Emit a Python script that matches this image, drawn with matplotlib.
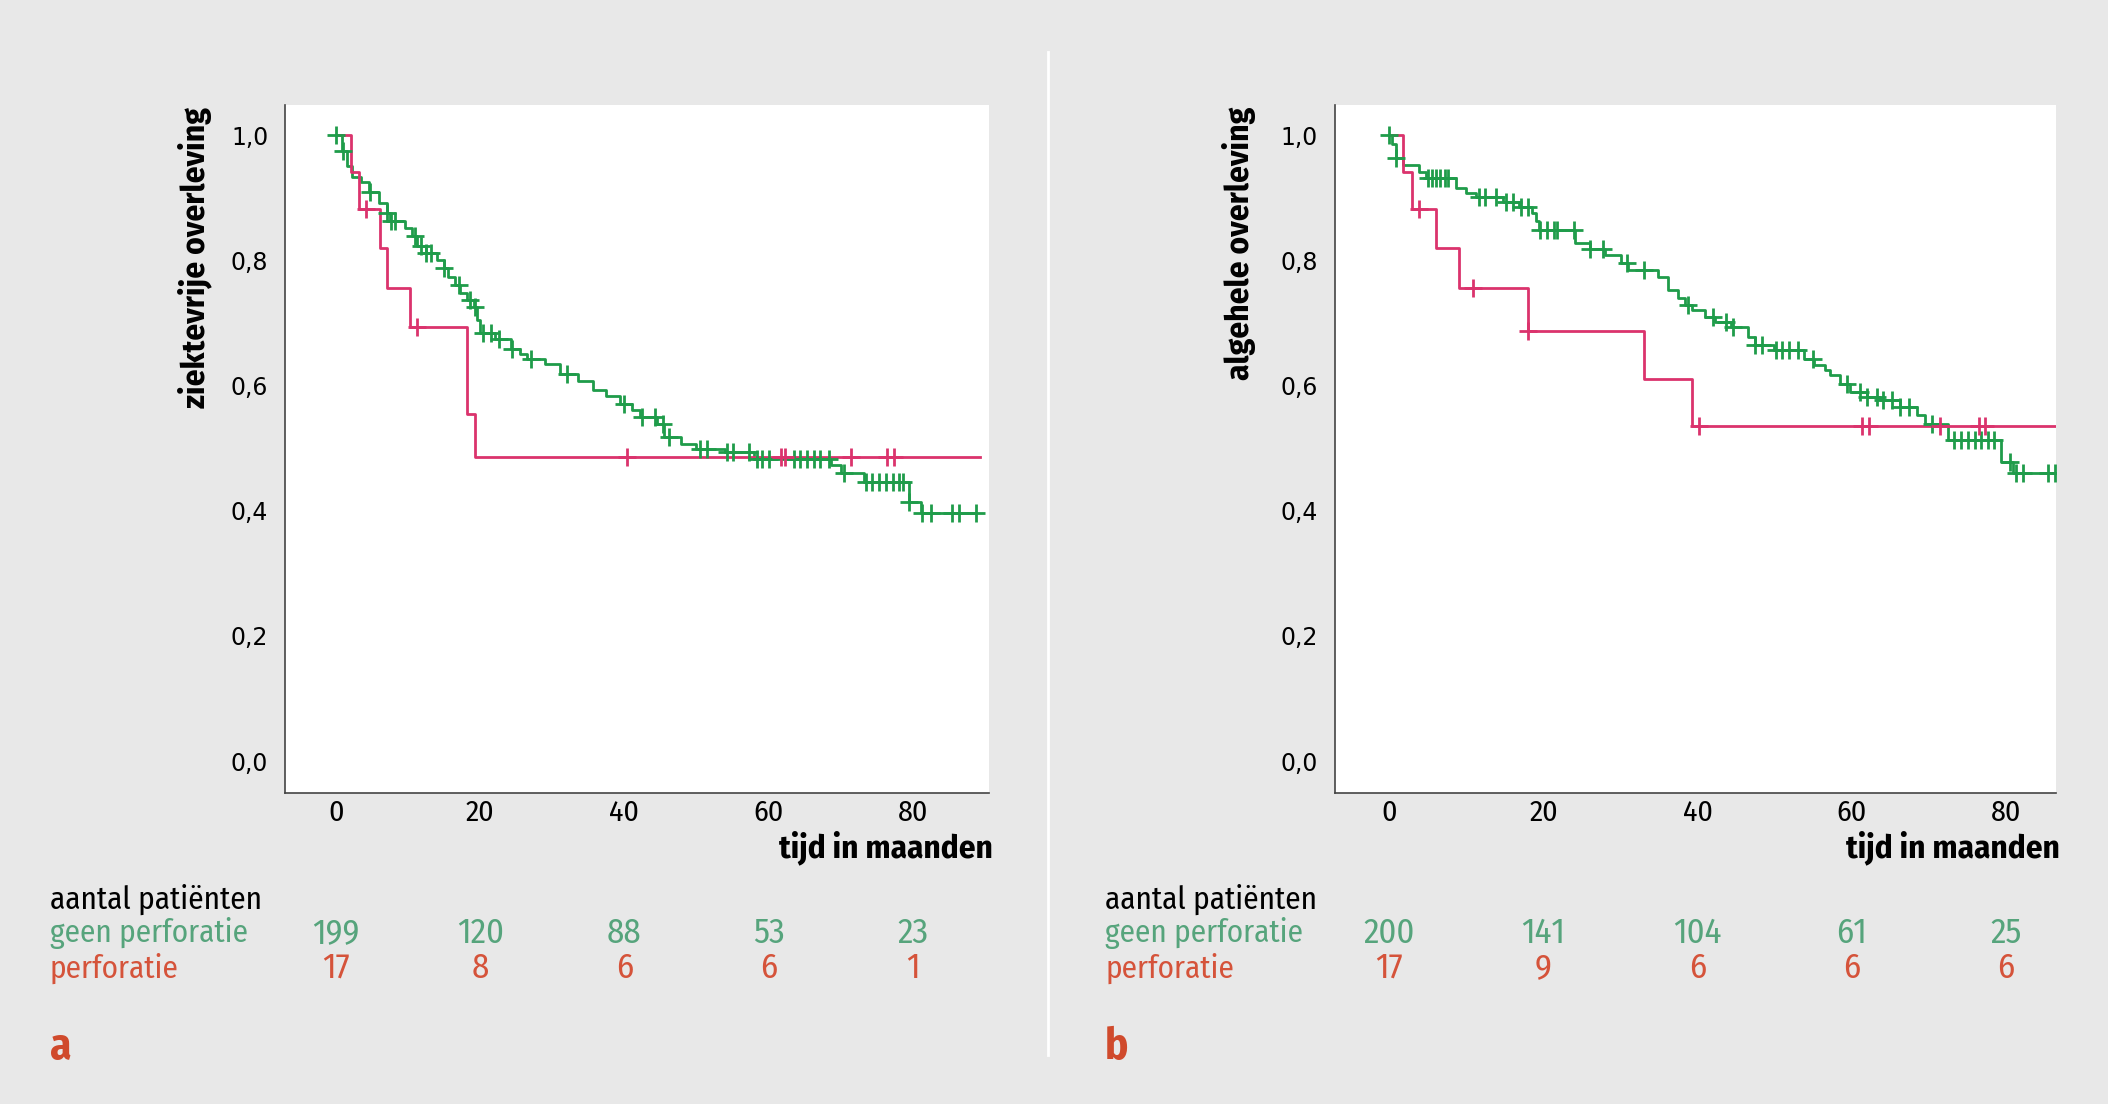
import numpy as np
import matplotlib.pyplot as plt
from matplotlib import font_manager

plt.rcParams["font.family"] = ["DejaVu Sans"]

BG = "#e8e8e8"
GREEN = "#1f9c4a"
PINK = "#db336d"
TXT_GREEN = "#56a47c"
TXT_RED = "#d5533a"

# smal lettertype zoals in de originele figuur, als het beschikbaar is
_names = {f.name for f in font_manager.fontManager.ttflist}
NARROW = ["DejaVu Sans"]
for cand in ["Fira Sans Condensed", "Roboto Condensed", "PT Sans Narrow", "Open Sans Condensed",
             "Barlow Semi Condensed", "Asap Condensed", "Archivo Narrow"]:
    if cand in _names:
        NARROW = [cand, "DejaVu Sans"]
        break

# --- paneel a: ziektevrije overleving ---
a_geen_t = [0, 0.8, 1.5, 2.2, 3.5, 4.5, 6.0, 7.0, 7.5, 9.5, 10.5, 11.2, 12.5, 14.0, 15.0, 15.5,
            16.5, 17.2, 18.2, 19.1, 19.5, 20.0, 22.0, 24.2, 25.5, 26.5, 29.0, 31.1, 33.5, 35.7,
            37.5, 39.4, 41.0, 42.2, 44.5, 45.5, 47.8, 50.0, 54.0, 58.0, 68.6, 70.0, 73.2, 79.5, 81.2]
a_geen_s = [1.0, 0.975, 0.951, 0.933, 0.925, 0.909, 0.891, 0.875, 0.862, 0.851, 0.838, 0.822, 0.812,
            0.800, 0.787, 0.774, 0.760, 0.747, 0.736, 0.726, 0.704, 0.683, 0.675, 0.659, 0.651, 0.643,
            0.635, 0.619, 0.607, 0.593, 0.583, 0.571, 0.561, 0.550, 0.539, 0.518, 0.507, 0.499, 0.494,
            0.483, 0.473, 0.460, 0.446, 0.414, 0.396]
a_geen_end = 88.8
a_geen_cens = [0, 1.0, 4.7, 7.0, 7.6, 8.2, 11.0, 11.8, 12.5, 13.2, 15.0, 17.0, 18.6, 19.2, 20.4, 21.5,
               22.6, 24.4, 27.0, 32.0, 40.0, 42.5, 44.3, 45.3, 46.2, 50.5, 51.4, 54.3, 55.0, 57.3,
               58.4, 59.1, 60.0, 63.5, 64.4, 65.4, 66.3, 67.2, 68.4, 70.5, 73.5, 74.4, 75.3, 76.3,
               77.2, 78.1, 78.6, 79.5, 81.3, 82.5, 85.5, 86.4, 88.8]

a_perf_t = [0, 2.1, 3.2, 6.1, 7.1, 10.2, 18.1, 19.2]
a_perf_s = [1.0, 0.941, 0.882, 0.819, 0.756, 0.693, 0.554, 0.485]
a_perf_end = 89.3
a_perf_cens = [4.2, 11.2, 40.4, 61.7, 62.3, 71.5, 76.5, 77.4]

# --- paneel b: algehele overleving ---
b_geen_t = [0, 0.3, 0.9, 1.8, 3.9, 4.8, 8.6, 10.0, 11.2, 14.7, 16.8, 18.5, 19.0, 19.4, 24.1, 26.0,
            28.0, 30.0, 31.0, 34.9, 36.2, 37.5, 38.3, 39.2, 41.0, 42.2, 44.3, 46.5, 47.4, 49.9, 53.8,
            55.1, 56.5, 57.2, 58.5, 59.8, 62.0, 63.7, 66.3, 68.4, 69.5, 72.5, 79.4, 80.9]
b_geen_s = [1.0, 0.985, 0.963, 0.952, 0.941, 0.931, 0.915, 0.908, 0.901, 0.893, 0.885, 0.875, 0.862,
            0.848, 0.827, 0.818, 0.808, 0.796, 0.784, 0.774, 0.752, 0.740, 0.728, 0.720, 0.710, 0.702,
            0.694, 0.678, 0.665, 0.657, 0.643, 0.633, 0.625, 0.617, 0.603, 0.590, 0.582, 0.577, 0.566,
            0.553, 0.539, 0.513, 0.478, 0.460]
b_geen_end = 90.0
b_geen_cens = [0, 0.9, 5.0, 5.6, 6.0, 6.6, 7.2, 7.6, 11.6, 12.4, 13.8, 15.1, 16.0, 17.1, 18.0, 19.6,
               20.5, 21.3, 21.8, 24.0, 26.0, 27.7, 30.8, 33.0, 38.7, 42.0, 43.7, 44.6, 47.4, 48.3,
               50.2, 51.0, 51.9, 53.0, 55.0, 59.4, 61.1, 62.0, 63.3, 64.1, 65.2, 66.3, 67.4, 70.4,
               73.2, 74.2, 75.1, 76.0, 76.8, 77.7, 78.5, 80.5, 81.3, 82.2, 85.4, 86.3]

b_perf_t = [0, 1.8, 2.9, 6.0, 9.0, 18.0, 33.1, 39.2]
b_perf_s = [1.0, 0.941, 0.882, 0.819, 0.756, 0.687, 0.611, 0.535]
b_perf_end = 90.0
b_perf_cens = [3.9, 10.9, 18.0, 40.2, 61.3, 62.2, 71.4, 76.5, 77.3]

x_ticks = [0, 20, 40, 60, 80]
y_ticks = [0.0, 0.2, 0.4, 0.6, 0.8, 1.0]
risk_a_geen = [199, 120, 88, 53, 23]
risk_a_perf = [17, 8, 6, 6, 1]
risk_b_geen = [200, 141, 104, 61, 25]
risk_b_perf = [17, 9, 6, 6, 6]


def km(ax, t, s, end, cens, color):
    tt = list(t) + [end]
    ss = list(s) + [s[-1]]
    ax.step(tt, ss, where="post", color=color, lw=2.0, zorder=3)
    idx = np.searchsorted(t, cens, side="right") - 1
    cy = np.array(s)[idx]
    ax.plot(cens, cy, ls="none", marker="+", ms=13, mew=2.0, color=color, zorder=4)


fig = plt.figure(figsize=(21.08, 11.04), dpi=100, facecolor=BG)

panels = [
    dict(rect=[0.1352, 0.2817, 0.3340, 0.6232], xlim=(-7.1, 90.6), ylab="ziektevrije overleving",
         geen=(a_geen_t, a_geen_s, a_geen_end, a_geen_cens), perf=(a_perf_t, a_perf_s, a_perf_end, a_perf_cens),
         rg=risk_a_geen, rp=risk_a_perf, letter="a", tx=0.0237, lx=195 / 2108),
    dict(rect=[0.6331, 0.2817, 0.3423, 0.6232], xlim=(-7.1, 86.5), ylab="algehele overleving",
         geen=(b_geen_t, b_geen_s, b_geen_end, b_geen_cens), perf=(b_perf_t, b_perf_s, b_perf_end, b_perf_cens),
         rg=risk_b_geen, rp=risk_b_perf, letter="b", tx=0.5242, lx=1239 / 2108),
]

for p in panels:
    ax = fig.add_axes(p["rect"])
    ax.set_facecolor("white")
    km(ax, *p["geen"], GREEN)
    km(ax, *p["perf"], PINK)
    ax.set_xlim(*p["xlim"])
    ax.set_ylim(-0.051, 1.048)
    ax.set_xticks(x_ticks)
    ax.set_yticks(y_ticks)
    ax.set_yticklabels([f"{v:.1f}".replace(".", ",") for v in y_ticks], fontsize=17)
    ax.set_xticklabels([str(v) for v in x_ticks], fontsize=21.5, family=NARROW)
    ax.tick_params(axis="y", length=0, pad=12)
    ax.tick_params(axis="x", length=0, pad=4)
    for side in ["top", "right"]:
        ax.spines[side].set_visible(False)
    for side in ["left", "bottom"]:
        ax.spines[side].set_color("#444444")
        ax.spines[side].set_linewidth(1.2)
    ax.text(1.005, -0.08, "tijd in maanden", transform=ax.transAxes, ha="right", va="center",
            fontsize=23.8, fontweight="bold", family=NARROW)
    fig.text(p["lx"], 1 - 107 / 1104, p["ylab"], rotation=90, ha="center", va="top",
             fontsize=24, fontweight="bold", family=NARROW)

    # aantal patienten onder de grafiek
    tx = p["tx"]
    fig.text(tx, 1 - 899 / 1104, "aantal patiënten", fontsize=22.5, family=NARROW, va="center")
    fig.text(tx, 1 - 933 / 1104, "geen perforatie", fontsize=22.5, family=NARROW, va="center", color=TXT_GREEN)
    fig.text(tx, 1 - 968 / 1104, "perforatie", fontsize=22.5, family=NARROW, va="center", color=TXT_RED)
    for xv, g, r in zip(x_ticks, p["rg"], p["rp"]):
        xf = fig.transFigure.inverted().transform(ax.transData.transform((xv, 0)))[0]
        fig.text(xf, 1 - 933 / 1104, str(g), fontsize=25, family=NARROW, ha="center", va="center", color=TXT_GREEN)
        fig.text(xf, 1 - 968 / 1104, str(r), fontsize=25, family=NARROW, ha="center", va="center", color=TXT_RED)
    fig.text(tx, 1 - 1048 / 1104, p["letter"], fontsize=31, fontweight="bold", family=NARROW,
             va="center", color="#d04a2c")

# witte scheidingslijn tussen de panelen
fig.add_artist(plt.Line2D([1048 / 2108, 1048 / 2108], [1 - 52 / 1104, 1 - 1055 / 1104],
                          transform=fig.transFigure, color="white", lw=2))

fig.savefig("out.png", dpi=100, facecolor=BG)
